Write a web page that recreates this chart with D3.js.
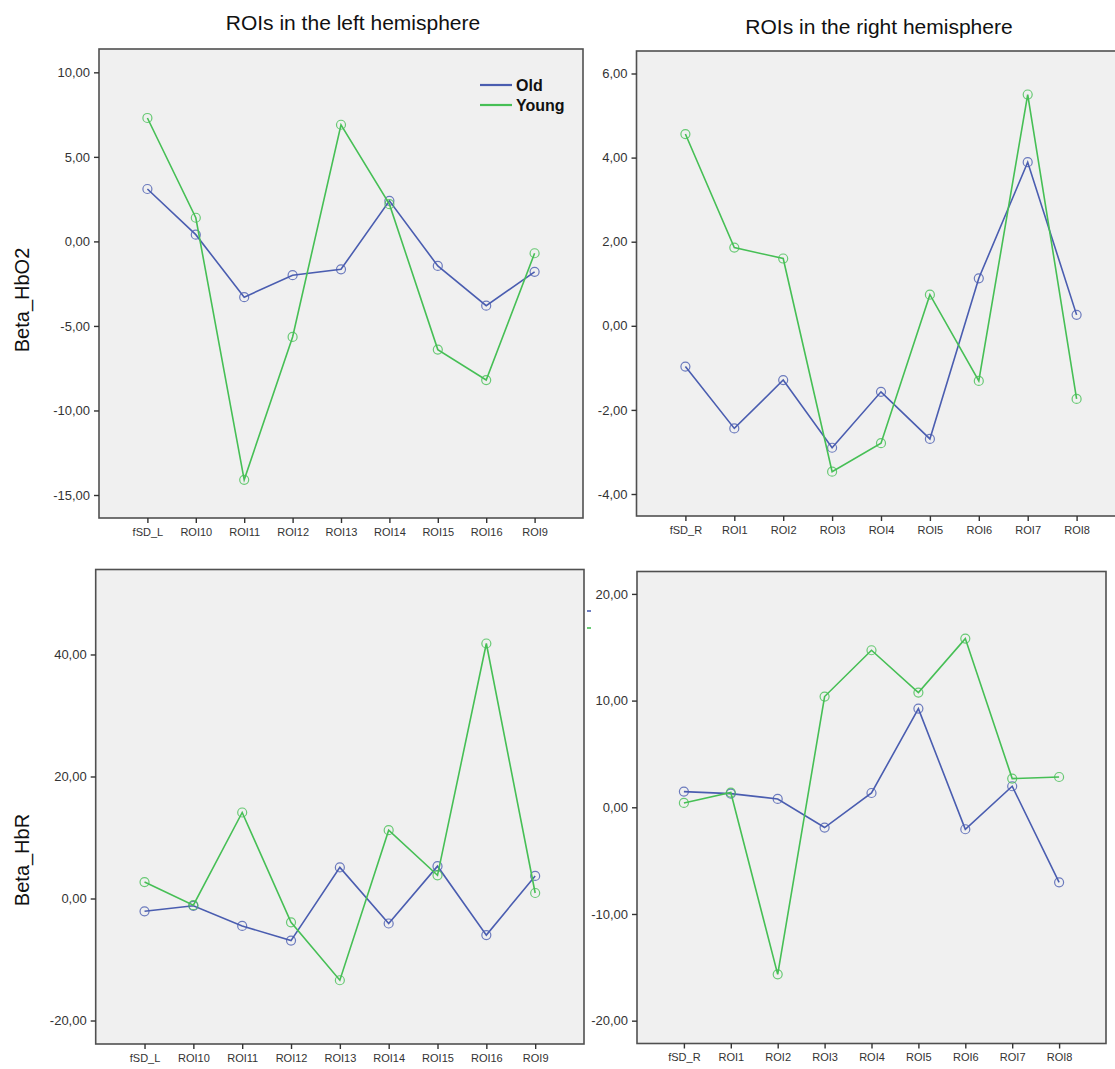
<!DOCTYPE html>
<html><head><meta charset="utf-8">
<script src="https://cdn.jsdelivr.net/npm/d3@7/dist/d3.min.js"></script>
<style>
body{margin:0;background:#fff;}
text{font-family:"Liberation Sans",Arial,sans-serif;}
</style></head>
<body><svg id="c" width="1115" height="1069"></svg>
<script>
// ---- data ----
const catsLeft = ["fSD_L","ROI10","ROI11","ROI12","ROI13","ROI14","ROI15","ROI16","ROI9"];
const catsRight = ["fSD_R","ROI1","ROI2","ROI3","ROI4","ROI5","ROI6","ROI7","ROI8"];
const seriesNames = ["Old","Young"];
const seriesColors = ["#4a5db0","#46bf55"];

const hbo2LeftOld   = [3.1, 0.4, -3.3, -2.0, -1.65, 2.4, -1.45, -3.8, -1.8];
const hbo2LeftYoung = [7.3, 1.4, -14.1, -5.65, 6.9, 2.2, -6.4, -8.2, -0.7];
const hbo2RightOld   = [-0.97, -2.44, -1.29, -2.90, -1.57, -2.69, 1.13, 3.89, 0.26];
const hbo2RightYoung = [4.56, 1.86, 1.60, -3.47, -2.79, 0.74, -1.31, 5.50, -1.74];
const hbrLeftOld   = [-2.1, -1.2, -4.5, -6.9, 5.1, -4.1, 5.3, -6.0, 3.7];
const hbrLeftYoung = [2.7, -1.1, 14.1, -3.9, -13.4, 11.2, 3.8, 41.8, 0.9];
const hbrRightOld   = [1.47, 1.28, 0.78, -1.9, 1.34, 9.25, -2.06, 1.97, -7.03];
const hbrRightYoung = [0.41, 1.38, -15.66, 10.38, 14.72, 10.75, 15.81, 2.69, 2.84];

const ticksHbo2Left = [-15, -10, -5, 0, 5, 10];
const ticksHbo2Right = [-4, -2, 0, 2, 4, 6];
const ticksHbrLeft = [-20, 0, 20, 40];
const ticksHbrRight = [-20, -10, 0, 10, 20];

const titleLeft = "ROIs in the left hemisphere";
const titleRight = "ROIs in the right hemisphere";
const yTitleTop = "Beta_HbO2";
const yTitleBottom = "Beta_HbR";

// ---- drawing ----
const loc = d3.formatLocale({decimal: ",", thousands: ".", grouping: [3], currency: ["", ""], minus: "-"});
const fmt = loc.format(".2f");
const svg = d3.select("#c");

function panel(cfg) {
  const {x0, x1, y0, y1, dom, cats, ticks, old, young} = cfg;
  const x = d3.scalePoint().domain(cats).range([x0, x1]).padding(1);
  const y = d3.scaleLinear().domain(dom).range([y1, y0]);
  const g = svg.append("g");
  g.append("rect").attr("x", x0).attr("y", y0).attr("width", x1 - x0).attr("height", y1 - y0)
    .attr("fill", "#f0f0f0").attr("stroke", "#505050").attr("stroke-width", 1.6);
  const ya = g.append("g").attr("transform", `translate(${x0},0)`)
    .call(d3.axisLeft(y).tickValues(ticks).tickFormat(fmt).tickSize(5).tickPadding(4));
  ya.select(".domain").remove();
  ya.selectAll("line").attr("stroke", "#333").attr("stroke-width", 1.4);
  ya.selectAll("text").attr("font-size", 13).attr("fill", "#333").attr("font-family", "Liberation Sans, Arial");
  const xa = g.append("g").attr("transform", `translate(0,${y1})`)
    .call(d3.axisBottom(x).tickSize(5).tickPadding(5));
  xa.select(".domain").remove();
  xa.selectAll("line").attr("stroke", "#333").attr("stroke-width", 1.4);
  xa.selectAll("text").attr("font-size", 11).attr("fill", "#333").attr("font-family", "Liberation Sans, Arial");
  [old, young].forEach((vals, i) => {
    const data = cats.map((c, k) => ({c, v: vals[k]}));
    g.append("path").datum(data)
      .attr("fill", "none").attr("stroke", seriesColors[i]).attr("stroke-width", 1.6)
      .attr("d", d3.line().x(d => x(d.c)).y(d => y(d.v)));
    g.selectAll(null).data(data).enter().append("circle")
      .attr("cx", d => x(d.c)).attr("cy", d => y(d.v)).attr("r", 4.5)
      .attr("fill", "none").attr("stroke", seriesColors[i]).attr("stroke-width", 1.2).attr("opacity", 0.8);
  });
}

panel({x0: 99, x1: 583, y0: 49, y1: 518, dom: [-16.36, 11.38], cats: catsLeft, ticks: ticksHbo2Left, old: hbo2LeftOld, young: hbo2LeftYoung});
panel({x0: 636.5, x1: 1125.5, y0: 51, y1: 516, dom: [-4.523, 6.535], cats: catsRight, ticks: ticksHbo2Right, old: hbo2RightOld, young: hbo2RightYoung});
panel({x0: 95.7, x1: 584, y0: 569.5, y1: 1044, dom: [-23.85, 53.93], cats: catsLeft, ticks: ticksHbrLeft, old: hbrLeftOld, young: hbrLeftYoung});
panel({x0: 637, x1: 1106, y0: 571.5, y1: 1043.5, dom: [-22.14, 22.1], cats: catsRight, ticks: ticksHbrRight, old: hbrRightOld, young: hbrRightYoung});

// legend (top-left panel)
seriesNames.forEach((n, i) => {
  const ly = 85 + i * 20;
  svg.append("line").attr("x1", 480).attr("x2", 512).attr("y1", ly).attr("y2", ly)
    .attr("stroke", seriesColors[i]).attr("stroke-width", 2.2);
  svg.append("text").attr("x", 516).attr("y", ly + 5.5).attr("font-size", 16).attr("font-weight", "bold")
    .attr("fill", "#111").text(n);
});
// legend remnant stubs between bottom panels
seriesNames.forEach((n, i) => {
  svg.append("line").attr("x1", 587).attr("x2", 591).attr("y1", 611 + i * 17).attr("y2", 611 + i * 17)
    .attr("stroke", seriesColors[i]).attr("stroke-width", 1.6);
});

// titles
svg.append("text").attr("x", 353).attr("y", 30).attr("text-anchor", "middle").attr("font-size", 21).attr("fill", "#111").text(titleLeft);
svg.append("text").attr("x", 879).attr("y", 34).attr("text-anchor", "middle").attr("font-size", 21).attr("fill", "#111").text(titleRight);
svg.append("text").attr("transform", "translate(29,300) rotate(-90)").attr("text-anchor", "middle").attr("font-size", 20).attr("fill", "#111").text(yTitleTop);
svg.append("text").attr("transform", "translate(29,860) rotate(-90)").attr("text-anchor", "middle").attr("font-size", 20).attr("fill", "#111").text(yTitleBottom);
</script></body></html>
